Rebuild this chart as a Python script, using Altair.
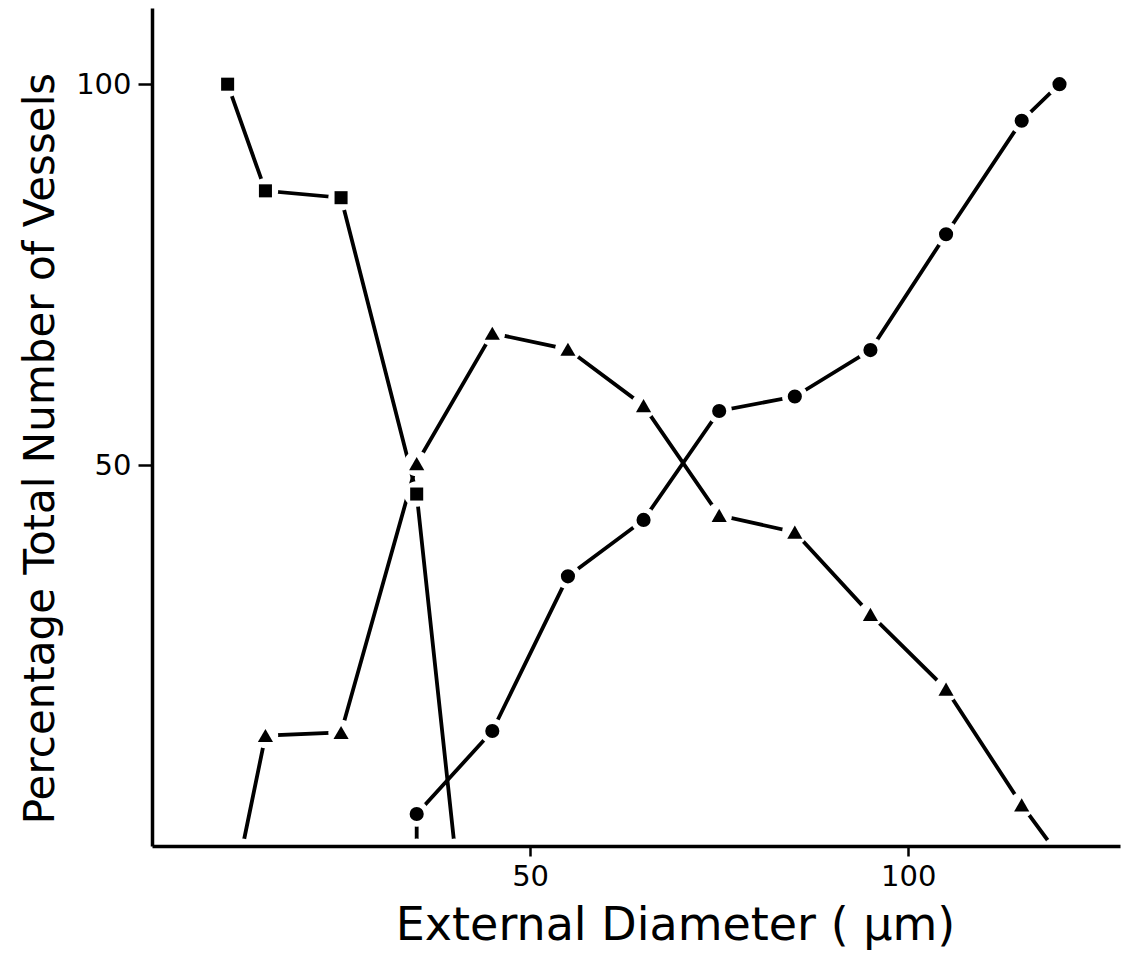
import altair as alt
import pandas as pd

# Series data (x = external diameter in µm, y = percentage total number of vessels)
sq_x = [10, 15, 25, 35, 40]
sq_y = [100, 86.0, 85.1, 46.2, 0]
sq_mark = [True, True, True, True, False]

tri_x = [12, 15, 25, 35, 45, 55, 65, 75, 85, 95, 105, 115, 119]
tri_y = [0, 14.5, 14.9, 50.2, 67.3, 65.2, 57.8, 43.4, 41.2, 30.4, 20.6, 5.4, 0]
tri_mark = [False] + [True] * 11 + [False]

cir_x = [35, 35, 45, 55, 65, 75, 85, 95, 105, 115, 120]
cir_y = [0, 4.2, 15.1, 35.4, 42.8, 57.1, 59.0, 65.1, 80.3, 95.2, 100]
cir_mark = [False] + [True] * 10

x_ticks = [50, 100]
y_ticks = [50, 100]

rows = []
for name, xs, ys, ms in [("square", sq_x, sq_y, sq_mark),
                         ("triangle", tri_x, tri_y, tri_mark),
                         ("circle", cir_x, cir_y, cir_mark)]:
    for i, (xv, yv, mv) in enumerate(zip(xs, ys, ms)):
        rows.append({"series": name, "x": xv, "y": yv, "marker": mv, "order": i})
df = pd.DataFrame(rows)

FONT = "DejaVu Sans"

xenc = alt.X("x:Q", scale=alt.Scale(domain=[0, 128], nice=False, zero=False),
             axis=alt.Axis(values=x_ticks, title="External Diameter ( µm)", grid=False,
                           tickSize=10, tickWidth=2.5, domainWidth=3.5, domainColor="black",
                           tickColor="black", labelFontSize=29, labelFont=FONT,
                           labelColor="black", labelPadding=6, titleFont=FONT,
                           titleFontSize=46, titleFontWeight="normal", titleColor="black",
                           titleX=523, titleAlign="center", titlePadding=12, zindex=1))
yenc = alt.Y("y:Q", scale=alt.Scale(domain=[0, 110], nice=False, zero=True),
             axis=alt.Axis(values=y_ticks, title="Percentage Total Number of Vessels",
                           grid=False, tickSize=14, tickWidth=2.5, domainWidth=3.5,
                           domainColor="black", tickColor="black", labelFontSize=29,
                           labelFont=FONT, labelColor="black", labelPadding=7,
                           titleFont=FONT, titleFontSize=42, titleFontWeight="normal",
                           titleColor="black", titleX=-112, titleY=440,
                           titleAlign="center", titleBaseline="middle", zindex=1))

base = alt.Chart(df)

lines = base.mark_line(color="black", strokeWidth=3.8).encode(
    x=xenc, y=yenc, detail="series:N", order="order:Q")

halo = base.transform_filter("datum.marker").mark_point(
    filled=True, color="white", shape="circle", size=650, opacity=1).encode(
    x="x:Q", y="y:Q")

end_halo = base.transform_filter("!datum.marker").mark_point(
    filled=True, color="white", shape="circle", size=220, opacity=1).encode(
    x="x:Q", y="y:Q")

sq_pts = base.transform_filter("datum.marker && datum.series == 'square'").mark_square(
    color="black", size=170, opacity=1).encode(
    x="x:Q", y="y:Q")

tri_pts = base.transform_filter("datum.marker && datum.series == 'triangle'").mark_point(
    filled=True, color="black", shape="triangle-up", size=230, opacity=1).encode(
    x="x:Q", y="y:Q")

cir_pts = base.transform_filter("datum.marker && datum.series == 'circle'").mark_circle(
    color="black", size=200, opacity=1).encode(
    x="x:Q", y="y:Q")

chart = alt.layer(lines, halo, end_halo, sq_pts, tri_pts, cir_pts).properties(
    width=968, height=838,
    background="white",
    autosize=alt.AutoSizeParams(type="none"),
    padding={"left": 152, "top": 8, "right": 3, "bottom": 116},
).configure_view(stroke=None)

chart.save("out.html", embed_options={"renderer": "svg", "actions": False})
